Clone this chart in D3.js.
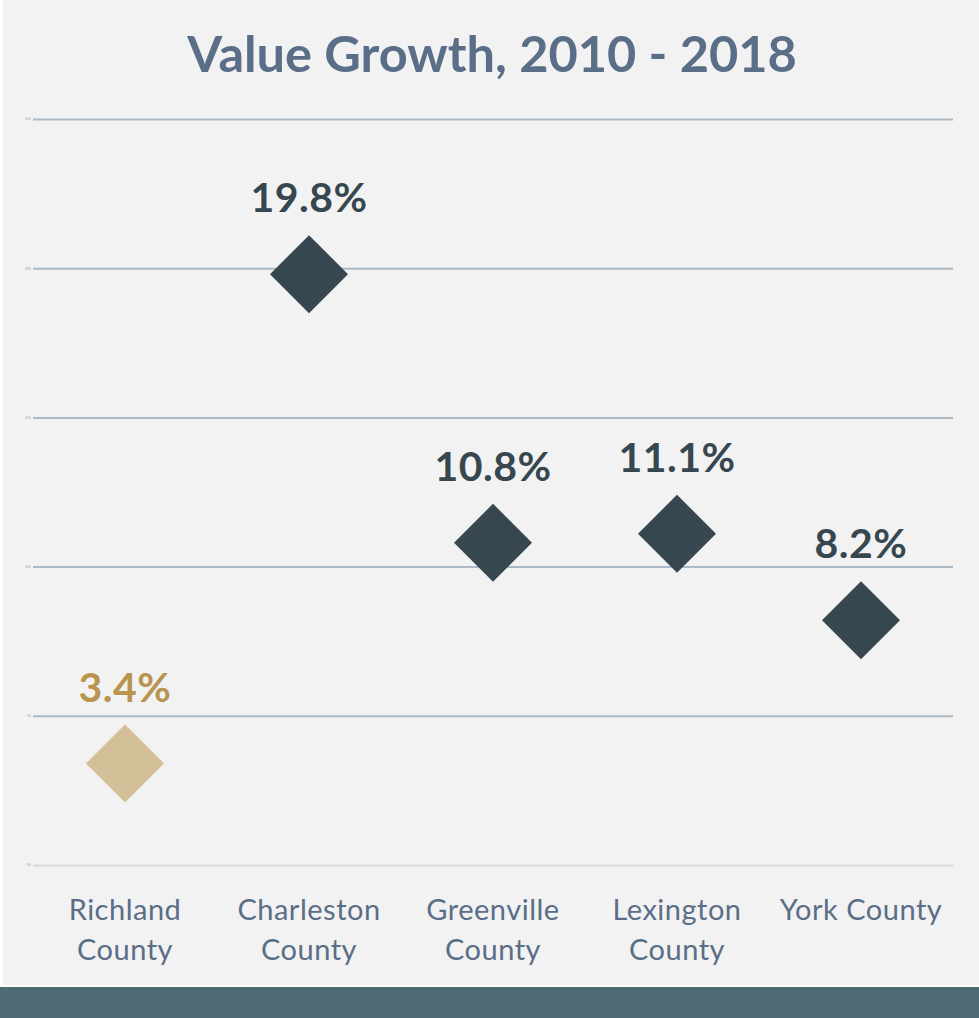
<!DOCTYPE html>
<html>
<head>
<meta charset="utf-8">
<script src="https://cdn.jsdelivr.net/npm/d3@7"></script>
<style>
  body { margin: 0; background: #ffffff; }
  svg { display: block; }
</style>
</head>
<body>
<div id="chart"></div>
<script>
// chart data
const counties = ['Richland County', 'Charleston County', 'Greenville County', 'Lexington County', 'York County'];
const growth = [3.4, 19.8, 10.8, 11.1, 8.2];
const tickValues = [0, 5, 10, 15, 20, 25];
const highlight = 'Richland County';

const W = 979, H = 1018;
const svg = d3.select('#chart')
  .append('svg')
  .attr('width', W)
  .attr('height', H);

// panel background
svg.append('rect')
  .attr('x', 3).attr('y', 0)
  .attr('width', W - 3).attr('height', 985)
  .attr('fill', '#f2f2f2');

// footer strip
svg.append('rect')
  .attr('x', 0).attr('y', 987)
  .attr('width', W).attr('height', H - 987)
  .attr('fill', '#4e6a72');

// title
svg.append('text')
  .attr('x', 492)
  .attr('y', 72)
  .attr('text-anchor', 'middle')
  .attr('fill', '#5a6e88')
  .style('font-family', 'Lato, sans-serif')
  .style('font-weight', 'bold')
  .style('font-size', '50.5px')
  .text('Value Growth, 2010 - 2018');

// scales
const x = d3.scaleBand()
  .domain(counties)
  .range([33, 953]);

const y = d3.scaleLinear()
  .domain([0, 25])
  .range([865, 119]);

// gridlines with tiny tick labels
const yAxis = svg.append('g')
  .attr('transform', 'translate(33,0)')
  .call(d3.axisLeft(y)
    .tickValues(tickValues)
    .tickSize(-920)
    .tickPadding(2)
    .tickFormat(d => d + '%'));

yAxis.select('.domain').remove();
yAxis.selectAll('line')
  .attr('stroke', d => d === 0 ? '#d5dbe1' : '#aab9c4')
  .attr('stroke-width', 2);
yAxis.selectAll('text')
  .attr('fill', '#9aa5b0')
  .style('font-family', 'Lato, sans-serif')
  .style('font-size', '3px');

// diamonds
const half = 39;
svg.selectAll('.diamond')
  .data(counties)
  .enter()
  .append('path')
  .attr('class', 'diamond')
  .attr('d', (d, i) => {
    const cx = x(d) + x.bandwidth() / 2;
    const cy = y(growth[i]);
    return `M${cx},${cy - half}L${cx + half},${cy}L${cx},${cy + half}L${cx - half},${cy}Z`;
  })
  .attr('fill', d => d === highlight ? '#d3bf98' : '#36474f');

// value labels
svg.selectAll('.value')
  .data(counties)
  .enter()
  .append('text')
  .attr('class', 'value')
  .attr('x', d => x(d) + x.bandwidth() / 2)
  .attr('y', (d, i) => y(growth[i]) - 62)
  .attr('text-anchor', 'middle')
  .attr('fill', d => d === highlight ? '#b8944f' : '#36474f')
  .style('font-family', 'Lato, sans-serif')
  .style('font-weight', 'bold')
  .style('font-size', '41px')
  .style('letter-spacing', '0.5px')
  .text((d, i) => growth[i].toFixed(1) + '%');

// category labels (wrapped)
const cat = svg.selectAll('.cat')
  .data(counties)
  .enter()
  .append('text')
  .attr('class', 'cat')
  .attr('x', d => x(d) + x.bandwidth() / 2)
  .attr('y', 920)
  .attr('text-anchor', 'middle')
  .attr('fill', '#5a6e88')
  .style('font-family', 'Lato, sans-serif')
  .style('font-size', '29px')
  .style('letter-spacing', '0.5px');

cat.each(function(d) {
  const el = d3.select(this);
  const lines = d === 'York County' ? [d] : d.split(' ');
  lines.forEach((line, j) => {
    el.append('tspan')
      .attr('x', x(d) + x.bandwidth() / 2)
      .attr('dy', j === 0 ? 0 : 40)
      .text(line);
  });
});
</script>
</body>
</html>
